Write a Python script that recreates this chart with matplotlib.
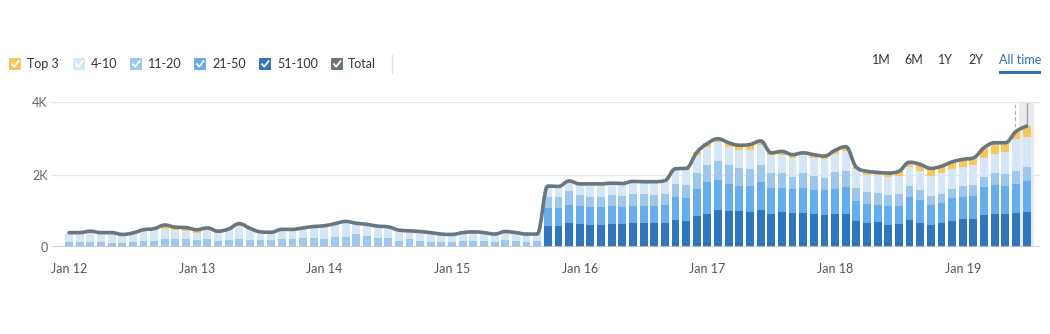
import matplotlib
matplotlib.use("Agg")
import matplotlib.pyplot as plt
import numpy as np
from matplotlib.path import Path
from matplotlib.patches import PathPatch, FancyBboxPatch, Rectangle
from matplotlib.lines import Line2D

plt.rcParams['font.family'] = ['Lato', 'DejaVu Sans']

# keywords in thousands, one bar per month (Jan 2012 .. Jul 2019)
r51_100 = [0, 0, 0, 0, 0, 0, 0, 0, 0, 0,
           0, 0, 0, 0, 0, 0, 0, 0, 0, 0,
           0, 0, 0, 0, 0, 0, 0, 0, 0, 0,
           0, 0, 0, 0, 0, 0, 0, 0, 0, 0,
           0, 0, 0, 0, 0,
           0.56, 0.56, 0.67, 0.63, 0.61, 0.61, 0.63, 0.63, 0.65, 0.65,
           0.65, 0.65, 0.74, 0.70, 0.84, 0.91, 1.03, 0.98, 0.98, 0.95,
           1.02, 0.91, 0.97, 0.94, 0.94, 0.91, 0.88, 0.91, 0.91, 0.72,
           0.67, 0.69, 0.60, 0.63, 0.75, 0.67, 0.59, 0.65, 0.72, 0.78,
           0.78, 0.88, 0.91, 0.91, 0.92, 0.95]
r21_50 = [0, 0, 0, 0, 0, 0, 0, 0, 0, 0,
          0, 0, 0, 0, 0, 0, 0, 0, 0, 0,
          0, 0, 0, 0, 0, 0, 0, 0, 0, 0,
          0, 0, 0, 0, 0, 0, 0, 0, 0, 0,
          0, 0, 0, 0, 0,
          0.51, 0.51, 0.49, 0.49, 0.49, 0.49, 0.49, 0.47, 0.48, 0.48,
          0.47, 0.51, 0.65, 0.64, 0.75, 0.87, 0.81, 0.77, 0.71, 0.74,
          0.78, 0.71, 0.65, 0.66, 0.68, 0.67, 0.68, 0.70, 0.74, 0.55,
          0.52, 0.47, 0.53, 0.51, 0.62, 0.61, 0.57, 0.56, 0.62, 0.61,
          0.63, 0.76, 0.79, 0.78, 0.81, 0.86]
r11_20 = [0.14, 0.14, 0.13, 0.14, 0.11, 0.11, 0.14, 0.17, 0.17, 0.21,
          0.20, 0.21, 0.19, 0.21, 0.17, 0.19, 0.21, 0.19, 0.19, 0.19,
          0.21, 0.21, 0.24, 0.25, 0.22, 0.26, 0.28, 0.34, 0.31, 0.25,
          0.25, 0.17, 0.20, 0.17, 0.14, 0.14, 0.14, 0.17, 0.17, 0.17,
          0.14, 0.19, 0.17, 0.14, 0.17,
          0.31, 0.32, 0.37, 0.32, 0.29, 0.28, 0.32, 0.31, 0.34, 0.34,
          0.32, 0.31, 0.36, 0.38, 0.46, 0.47, 0.53, 0.50, 0.48, 0.45,
          0.45, 0.41, 0.41, 0.33, 0.41, 0.39, 0.35, 0.45, 0.44, 0.36,
          0.33, 0.34, 0.31, 0.33, 0.30, 0.30, 0.25, 0.26, 0.27, 0.28,
          0.30, 0.29, 0.34, 0.33, 0.38, 0.39]
r4_10 = [0.23, 0.23, 0.29, 0.21, 0.24, 0.20, 0.21, 0.26, 0.28, 0.29,
         0.25, 0.22, 0.20, 0.25, 0.20, 0.26, 0.35, 0.27, 0.20, 0.20,
         0.26, 0.26, 0.27, 0.30, 0.35, 0.37, 0.41, 0.30, 0.30, 0.31,
         0.29, 0.28, 0.23, 0.24, 0.24, 0.20, 0.19, 0.21, 0.23, 0.21,
         0.20, 0.22, 0.21, 0.20, 0.17,
         0.29, 0.27, 0.27, 0.28, 0.33, 0.34, 0.30, 0.31, 0.31, 0.31,
         0.34, 0.34, 0.37, 0.40, 0.48, 0.52, 0.53, 0.51, 0.51, 0.54,
         0.56, 0.50, 0.52, 0.53, 0.52, 0.50, 0.52, 0.50, 0.56, 0.51,
         0.48, 0.48, 0.48, 0.48, 0.53, 0.51, 0.56, 0.56, 0.53, 0.53,
         0.54, 0.53, 0.54, 0.60, 0.86, 0.84]
top3 = [0.02, 0.02, 0.01, 0.04, 0.04, 0.03, 0.03, 0.04, 0.05, 0.10,
        0.09, 0.10, 0.08, 0.06, 0.06, 0.04, 0.08, 0.05, 0.02, 0.01,
        0.01, 0.01, 0.01, 0.01, 0.01, 0.01, 0.01, 0.01, 0.01, 0.01,
        0.01, 0.01, 0.01, 0.01, 0.01, 0.01, 0.01, 0.01, 0.01, 0.01,
        0.01, 0.01, 0.01, 0.01, 0.01,
        0.01, 0.01, 0.02, 0.02, 0.02, 0.02, 0.02, 0.03, 0.03, 0.02,
        0.02, 0.02, 0.04, 0.05, 0.08, 0.09, 0.09, 0.12, 0.13, 0.15,
        0.12, 0.07, 0.09, 0.09, 0.05, 0.08, 0.08, 0.11, 0.12, 0.06,
        0.09, 0.08, 0.12, 0.14, 0.14, 0.19, 0.20, 0.20, 0.21, 0.22,
        0.21, 0.28, 0.30, 0.26, 0.22, 0.30]

year_labels = ["Jan 12", "Jan 13", "Jan 14", "Jan 15", "Jan 16", "Jan 17", "Jan 18", "Jan 19"]
legend_labels = ["Top 3", "4-10", "11-20", "21-50", "51-100", "Total"]
range_buttons = ["1M", "6M", "1Y", "2Y", "All time"]

colors = {"Top 3": "#f8c75a", "4-10": "#d5e7f6", "11-20": "#9cc7ee",
          "21-50": "#66adef", "51-100": "#3075c0", "Total": "#68767f"}

W, H = 1050, 334


def px(x, y):
    return x / W, 1 - y / H


def spline_path(xs, ys, smoothing=1.5):
    # highcharts style spline
    n = len(xs)
    lc = [(xs[0], ys[0])] * n
    rc = [(xs[0], ys[0])] * n
    rc[0] = (xs[0], ys[0])
    lc[n - 1] = (xs[-1], ys[-1])
    d = smoothing + 1
    for i in range(1, n - 1):
        x, y = xs[i], ys[i]
        lx, ly = xs[i - 1], ys[i - 1]
        nx, ny = xs[i + 1], ys[i + 1]
        lcx = (smoothing * x + lx) / d
        lcy = (smoothing * y + ly) / d
        rcx = (smoothing * x + nx) / d
        rcy = (smoothing * y + ny) / d
        corr = (rcy - lcy) * (rcx - x) / (rcx - lcx) + y - rcy
        lcy += corr
        rcy += corr
        if lcy > ly and lcy > y:
            lcy = max(ly, y)
            rcy = 2 * y - lcy
        elif lcy < ly and lcy < y:
            lcy = min(ly, y)
            rcy = 2 * y - lcy
        if rcy > ny and rcy > y:
            rcy = max(ny, y)
            lcy = 2 * y - rcy
        elif rcy < ny and rcy < y:
            rcy = min(ny, y)
            lcy = 2 * y - rcy
        lc[i] = (lcx, lcy)
        rc[i] = (rcx, rcy)
    verts = [(xs[0], ys[0])]
    codes = [Path.MOVETO]
    for i in range(1, n):
        verts += [rc[i - 1], lc[i], (xs[i], ys[i])]
        codes += [Path.CURVE4] * 3
    return Path(verts, codes)


fig = plt.figure(figsize=(W / 100, H / 100), dpi=100)
ax = fig.add_axes([52 / W, (H - 246.7) / H, (1040 - 52) / W, (246.7 - 102.3) / H])

x = np.arange(len(top3))
series = [("51-100", r51_100), ("21-50", r21_50), ("11-20", r11_20),
          ("4-10", r4_10), ("Top 3", top3)]
bottom = np.zeros(len(x))
for name, vals in series:
    vals = np.array(vals)
    ax.bar(x, vals, 0.74, bottom=bottom, color=colors[name], zorder=2, linewidth=0)
    bottom += vals
total = bottom

# hover band on the last month
ax.axvspan(89.25, 90.65, color="#e9ecee", zorder=0, lw=0)
ax.plot([88.95, 88.95], [3.15, 4], color="#b0b0b0", lw=0.9, ls=(0, (3, 2)), zorder=1)
ax.plot([90, 90], [total[-1], 4], color="#9da3a7", lw=1, zorder=1)

path = spline_path(x.astype(float), total)
ax.add_patch(PathPatch(path, facecolor="none", edgecolor=colors["Total"], lw=2.6,
                       zorder=4, capstyle="round", joinstyle="round"))

ax.set_xlim(-1.6, 91.26)
ax.set_ylim(0, 4)
ax.set_yticks([0, 2, 4])
ax.set_yticklabels(["0", "2K", "4K"])
ax.set_xticks(np.arange(len(year_labels)) * 12)
ax.set_xticklabels(year_labels)
ax.grid(axis="y", color="#e6e6e6", lw=1, zorder=0.5)
ax.axhline(0, color="#c9c9c9", lw=1.2, zorder=3)
for s in ax.spines.values():
    s.set_visible(False)
ax.tick_params(axis="y", length=0, pad=3, labelsize=9, labelcolor="#666666")
ax.tick_params(axis="x", length=0, pad=12, labelsize=9, labelcolor="#555555")

# legend with checkboxes
box_x = [15, 79, 136, 200, 265, 337]
text_x = [27, 91, 148, 212, 277, 348]
for bx, tx, name in zip(box_x, text_x, legend_labels):
    fx, fy = px(bx - 6, 70)
    fig.patches.append(FancyBboxPatch((fx, fy), 12 / W, 12 / H,
                                      boxstyle="round,pad=0,rounding_size=0.002",
                                      transform=fig.transFigure, facecolor=colors[name],
                                      edgecolor="none"))
    cx = [bx - 3, bx - 0.8, bx + 3.5]
    cy = [64.2, 66.6, 61.2]
    fig.lines.append(Line2D([c / W for c in cx], [1 - c / H for c in cy],
                            transform=fig.transFigure, color="white", lw=1.3))
    fig.text(*px(tx, 64), name, fontsize=9, color="#333333", va="center", ha="left")

fig.lines.append(Line2D([392 / W, 392 / W], [1 - 55 / H, 1 - 73 / H],
                        transform=fig.transFigure, color="#e2e2e2", lw=1))

btn_x = [881.5, 914, 945.5, 976, 1020]
for bx, name in zip(btn_x, range_buttons):
    c = "#2e6fc0" if name == "All time" else "#333333"
    fig.text(*px(bx, 60), name, fontsize=9, color=c, va="center", ha="center")
fig.patches.append(Rectangle(px(999, 74), 42 / W, 2.5 / H, transform=fig.transFigure,
                             facecolor="#2e6fc0", edgecolor="none"))

fig.savefig("out.png", dpi=100)
